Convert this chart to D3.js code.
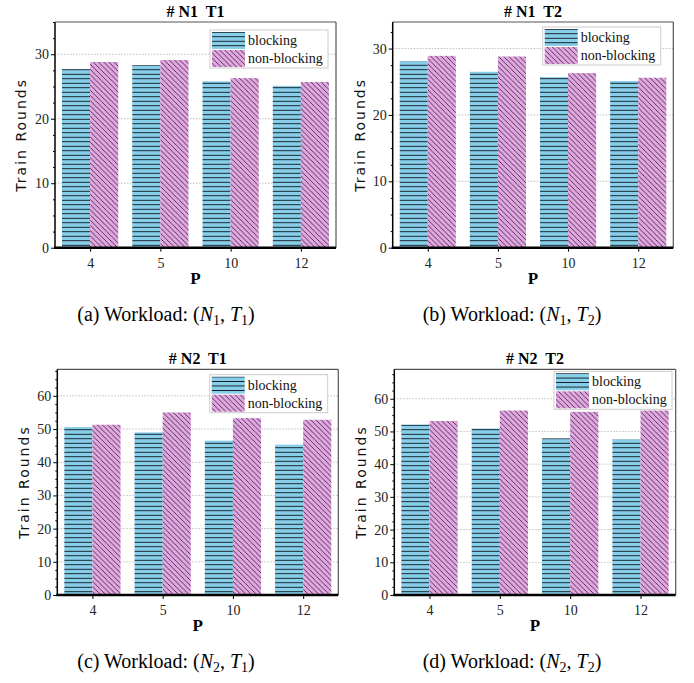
<!DOCTYPE html>
<html>
<head>
<meta charset="utf-8">
<script src="https://d3js.org/d3.v7.min.js"></script>
<style>
  body { margin: 0; background: #fff; }
</style>
</head>
<body>
<div id="chart"></div>
<script>
// data
const pValues = ['4', '5', '10', '12'];
const seriesNames = ['blocking', 'non-blocking'];

const n1t1Blocking    = [27.7, 28.3, 25.8, 25.1];
const n1t1NonBlocking = [28.8, 29.1, 26.3, 25.7];
const n1t2Blocking    = [28.1, 26.5, 25.7, 25.1];
const n1t2NonBlocking = [28.9, 28.8, 26.3, 25.6];
const n2t1Blocking    = [50.6, 49.0, 46.5, 45.3];
const n2t1NonBlocking = [51.3, 55.0, 53.3, 52.8];
const n2t2Blocking    = [52.1, 50.9, 47.9, 47.6];
const n2t2NonBlocking = [53.2, 56.4, 56.0, 56.4];

const panelTitles = [['N1', 'T1'], ['N1', 'T2'], ['N2', 'T1'], ['N2', 'T2']];
const captionLetters = ['a', 'b', 'c', 'd'];
const yLimits = [35, 34, 68, 69];
const yTicksSmall = [0, 10, 20, 30];
const yTicksLarge = [0, 10, 20, 30, 40, 50, 60];

const panelData = [
  [n1t1Blocking, n1t1NonBlocking],
  [n1t2Blocking, n1t2NonBlocking],
  [n2t1Blocking, n2t1NonBlocking],
  [n2t2Blocking, n2t2NonBlocking]
];

// layout (pixels)
const W = 694, H = 683;
const SERIF = "'Liberation Serif', 'Times New Roman', Times, serif";
const SANS = "'DejaVu Sans', sans-serif";
const boxes = [
  {l: 55,    r: 336,   t: 22,    b: 247.7, ylx: 21,  cap: 166, leg: [210, 30]},
  {l: 392.7, r: 673.3, t: 22,    b: 247.7, ylx: 360, cap: 512, leg: [542.7, 27]},
  {l: 57.3,  r: 338.3, t: 369.3, b: 595,   ylx: 24,  cap: 166, leg: [209.7, 374.7]},
  {l: 394.3, r: 675.7, t: 369.3, b: 595,   ylx: 361, cap: 512, leg: [554, 371.3]}
];
const colors = ['#87ceeb', '#e2a6e2'];

const svg = d3.select('#chart').append('svg')
  .attr('width', W).attr('height', H);

// hatch patterns (crisp, like the rasterised original)
const defs = svg.append('defs');
let hp = defs.append('pattern').attr('id', 'hatchH')
  .attr('patternUnits', 'userSpaceOnUse').attr('width', 8).attr('height', 4.5);
hp.append('rect').attr('width', 8).attr('height', 4.5).attr('fill', colors[0]);
hp.append('line').attr('x1', 0).attr('x2', 8).attr('y1', 2.2).attr('y2', 2.2)
  .attr('stroke', '#000').attr('stroke-width', 0.9)
  .attr('shape-rendering', 'crispEdges');

let s = 5.2;
let dp = defs.append('pattern').attr('id', 'hatchD')
  .attr('patternUnits', 'userSpaceOnUse').attr('width', s).attr('height', s);
dp.append('rect').attr('width', s).attr('height', s).attr('fill', colors[1]);
dp.append('path')
  .attr('d', `M0,0 L${s},${s} M${-s / 2},${s / 2} L${s / 2},${s * 1.5} M${s / 2},${-s / 2} L${s * 1.5},${s / 2}`)
  .attr('stroke', '#000').attr('stroke-width', 0.75)
  .attr('shape-rendering', 'crispEdges');
const fills = ['url(#hatchH)', 'url(#hatchD)'];

panelData.forEach((series, i) => drawPanel(i, series));

function drawPanel(i, series) {
  let box = boxes[i];
  let g = svg.append('g');

  let x = d3.scaleLinear().domain([-0.5, pValues.length - 0.5]).range([box.l, box.r]);
  let y = d3.scaleLinear().domain([0, yLimits[i]]).range([box.b, box.t]);
  let ticks = yLimits[i] > 40 ? yTicksLarge : yTicksSmall;
  let barW = 0.4;

  // grid
  g.append('g').selectAll('line').data(ticks.slice(1)).join('line')
    .attr('x1', box.l).attr('x2', box.r)
    .attr('y1', d => y(d)).attr('y2', d => y(d))
    .attr('stroke', '#b0b0b0').attr('stroke-width', 0.8)
    .attr('stroke-dasharray', '1.5,1.5');

  // bars
  series.forEach((vals, k) => {
    g.append('g').selectAll('rect').data(vals).join('rect')
      .attr('x', (d, j) => x(j + (k - 1) * barW))
      .attr('width', x(barW) - x(0))
      .attr('y', d => y(d))
      .attr('height', d => y(0) - y(d))
      .attr('fill', fills[k]);
  });

  // axes
  let yAxis = d3.axisLeft(y).tickValues(ticks).tickSize(4).tickPadding(2).tickFormat(d3.format('d'));
  let minor = d3.axisLeft(y).tickValues(d3.range(0, yLimits[i] + 0.01, 2.5).filter(v => v % 10 != 0))
    .tickSize(2).tickFormat('');
  let ya = g.append('g').attr('transform', `translate(${box.l},0)`).call(yAxis);
  g.append('g').attr('transform', `translate(${box.l},0)`).call(minor)
    .call(a => a.select('.domain').remove());
  ya.attr('font-family', SERIF);
  ya.selectAll('text').attr('font-size', 14).attr('fill', '#222');
  ya.select('.domain').remove();

  let xAxis = d3.axisBottom(x).tickValues(d3.range(pValues.length)).tickSize(4).tickPadding(6)
    .tickFormat(j => pValues[j]);
  let xa = g.append('g').attr('transform', `translate(0,${box.b})`).call(xAxis);
  xa.attr('font-family', SERIF);
  xa.selectAll('text').attr('font-size', 14).attr('fill', '#222');
  xa.select('.domain').remove();

  // spines
  g.append('line').attr('x1', box.l).attr('x2', box.r).attr('y1', box.t).attr('y2', box.t)
    .attr('stroke', '#555').attr('stroke-width', 1.2);
  g.append('line').attr('x1', box.r).attr('x2', box.r).attr('y1', box.t).attr('y2', box.b)
    .attr('stroke', '#555').attr('stroke-width', 1.2);
  g.append('line').attr('x1', box.l).attr('x2', box.l).attr('y1', box.t).attr('y2', box.b)
    .attr('stroke', '#000').attr('stroke-width', 1.5);
  g.append('line').attr('x1', box.l - 1).attr('x2', box.r).attr('y1', box.b).attr('y2', box.b)
    .attr('stroke', '#000').attr('stroke-width', 2.5);

  // title
  let cx = (box.l + box.r) / 2;
  g.append('text').attr('x', cx).attr('y', box.t - 5).attr('text-anchor', 'middle')
    .attr('font-family', SERIF).attr('font-size', 16).attr('font-weight', 'bold')
    .attr('xml:space', 'preserve')
    .text('# ' + panelTitles[i][0] + '  ' + panelTitles[i][1]);

  // axis labels
  g.append('text').attr('x', cx).attr('y', box.b + 36).attr('text-anchor', 'middle')
    .attr('font-family', SERIF).attr('font-size', 17).attr('font-weight', 'bold').text('P');
  g.append('text')
    .attr('transform', `translate(${box.ylx + 5},${(box.t + box.b) / 2}) rotate(-90)`)
    .attr('text-anchor', 'middle').attr('font-family', SANS).attr('font-size', 14)
    .attr('letter-spacing', 2).attr('fill', '#111')
    .text('Train Rounds');

  // legend
  let lx = box.leg[0], ly = box.leg[1];
  let leg = g.append('g').attr('transform', `translate(${lx},${ly})`);
  leg.append('rect').attr('width', 118).attr('height', 38)
    .attr('fill', '#fff').attr('stroke', '#ccc').attr('stroke-width', 1);
  seriesNames.forEach((name, k) => {
    leg.append('rect').attr('x', 2).attr('y', 2 + k * 18).attr('width', 33).attr('height', 17)
      .attr('fill', fills[k]);
    leg.append('text').attr('x', 38).attr('y', 15 + k * 18)
      .attr('font-family', SERIF).attr('font-size', 14).attr('fill', '#111').text(name);
  });

  // caption
  let cap = g.append('text').attr('x', box.cap).attr('y', box.b + 73)
    .attr('text-anchor', 'middle').attr('font-family', SERIF).attr('font-size', 20)
    .attr('xml:space', 'preserve');
  cap.append('tspan').text('(' + captionLetters[i] + ') Workload: (');
  cap.append('tspan').attr('font-style', 'italic').text('N');
  cap.append('tspan').attr('font-size', 14).attr('dy', 4).text(panelTitles[i][0].slice(1));
  cap.append('tspan').attr('dy', -4).text(', ');
  cap.append('tspan').attr('font-style', 'italic').text('T');
  cap.append('tspan').attr('font-size', 14).attr('dy', 4).text(panelTitles[i][1].slice(1));
  cap.append('tspan').attr('dy', -4).text(')');
}
</script>
</body>
</html>
